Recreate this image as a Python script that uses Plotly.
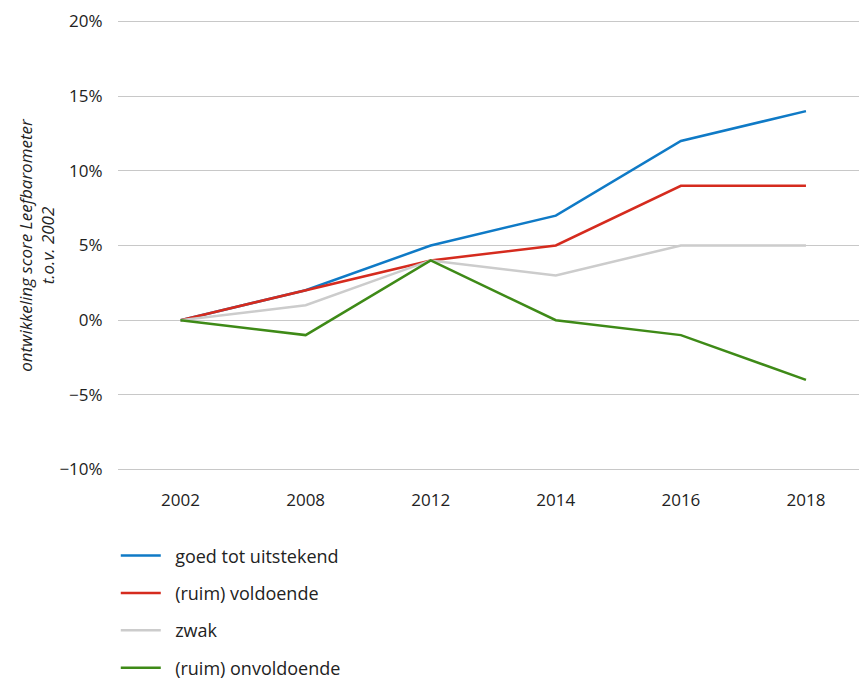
import plotly.graph_objects as go

years = ["2002", "2008", "2012", "2014", "2016", "2018"]
goed = [0, 2, 5, 7, 12, 14]
voldoende = [0, 2, 4, 5, 9, 9]
zwak = [0, 1, 4, 3, 5, 5]
onvoldoende = [0, -1, 4, 0, -1, -4]

series = [
    ("goed tot uitstekend", goed, "#0f7ac6"),
    ("(ruim) voldoende", voldoende, "#d52b1e"),
    ("zwak", zwak, "#cccccc"),
    ("(ruim) onvoldoende", onvoldoende, "#3e8a17"),
]

FONT = "Open Sans"
fig = go.Figure()
for i, (name, vals, col) in enumerate(series):
    fig.add_trace(go.Scatter(x=years, y=vals, name="\u00a0\u00a0" + name, mode="lines",
                             line=dict(color=col, width=2.5),
                             legendgroup=f"g{i}"))

fig.update_layout(
    width=859, height=680,
    margin=dict(l=118, r=0, t=20, b=209, autoexpand=False),
    paper_bgcolor="white", plot_bgcolor="white",
    font=dict(family=FONT, size=17, color="#222222"),
    showlegend=True,
    legend=dict(x=-0.003, xanchor="left", y=-0.147, yanchor="top",
                orientation="v", traceorder="grouped", tracegroupgap=11,
                itemwidth=40, font=dict(size=18, color="#222222")),
    xaxis=dict(type="category", range=[-0.5, 5.424], showgrid=False,
               showline=False, zeroline=False, ticks="outside", ticklen=14,
               tickcolor="rgba(0,0,0,0)", tickfont=dict(size=17),
               automargin=False),
    yaxis=dict(range=[-10.1, 20.1], dtick=5, ticksuffix="%", showgrid=True,
               gridcolor="#c8c8c8", gridwidth=1, zeroline=True,
               zerolinecolor="#c8c8c8", zerolinewidth=1, showline=False,
               ticks="outside", ticklen=11, tickcolor="rgba(0,0,0,0)",
               tickfont=dict(size=17), automargin=False,
               title=dict(text="<i>ontwikkeling score Leefbarometer<br>t.o.v. 2002</i>",
                          font=dict(size=17), standoff=0)),
)

fig.write_html("out.html", config={"displayModeBar": False},
               post_script="document.body.style.margin='0';")
